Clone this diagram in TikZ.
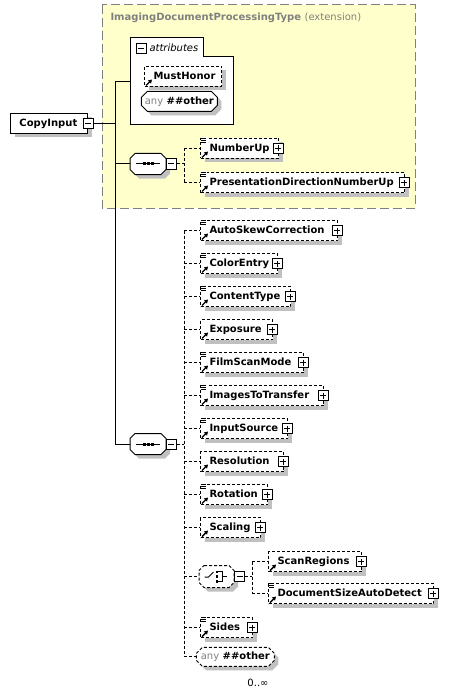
\documentclass[tikz,border=0pt]{standalone}
\usepackage{fontspec}
\setmainfont{DejaVu Sans}
\usepackage{tikz}
\usetikzlibrary{positioning}
\usetikzlibrary{shapes.misc}
\usetikzlibrary{shadows}
\usetikzlibrary{arrows.meta}

\definecolor{extyellow}{RGB}{255,255,204}
\definecolor{extgray}{RGB}{128,128,128}
\definecolor{shgray}{RGB}{192,192,192}

\newcommand{\elfont}{\fontsize{10}{11}\selectfont\bfseries\hyphenpenalty=10000 }
\newcommand{\txfont}{\fontsize{10}{11}\selectfont}

\tikzset{
  shadowed/.style={drop shadow={shadow xshift=4pt, shadow yshift=-4pt, fill=shgray, opacity=1}},
  elbox/.style={draw, fill=white, anchor=north west, minimum height=20pt, inner xsep=9pt, inner ysep=0pt,
    text height=7.5pt, text depth=2pt, align=left, font=\elfont, shadowed},
  optbox/.style={elbox, dash pattern=on 3pt off 2pt},
  anybox/.style={chamfered rectangle, chamfered rectangle xsep=3pt, chamfered rectangle ysep=3pt, draw, fill=white,
    anchor=north west, minimum height=20pt, inner sep=0pt, font=\elfont, shadowed},
  compo/.style={anchor=west, minimum width=35pt, minimum height=20pt, inner sep=0pt},
  togglebox/.style={draw, fill=white, minimum size=10pt, inner sep=0pt},
  minusbox/.style={togglebox, path picture={\draw ([xshift=2pt]path picture bounding box.west) -- ([xshift=-2pt]path picture bounding box.east);}},
  plusbox/.style={togglebox, path picture={\draw ([xshift=2pt]path picture bounding box.west) -- ([xshift=-2pt]path picture bounding box.east)
    ([yshift=-2pt]path picture bounding box.north) -- ([yshift=2pt]path picture bounding box.south);}},
  optline/.style={dash pattern=on 3pt off 2pt},
  extframe/.style={draw=extgray, fill=extyellow, dash pattern=on 9pt off 4pt}
}

% piccole icone degli elementi
\newcommand{\refmark}[1]{\draw[line width=1.4pt,-{Triangle[length=3.6pt,width=4.2pt]}] ([shift={(2,-1.5)}]#1.south west) -- ([shift={(8,-7.5)}]#1.south west);}
\newcommand{\multimark}[1]{\fill[white] ([shift={(0.6,-0.6)}]#1.north west) rectangle ([shift={(6.6,4.8)}]#1.north west);
  \draw[line width=0.8pt] ([shift={(1,0.3)}]#1.north west) -- +(5,0) ([shift={(1,2.3)}]#1.north west) -- +(5,0) ([shift={(1,4.3)}]#1.north west) -- +(5,0);}
\newcommand{\plusat}[1]{\node[plusbox] (#1p) at ([xshift=-1pt]#1.east) {};}
% ottagono dei compositori: nodo, taglio, opzioni del bordo
\newcommand{\octshape}[3]{%
  \fill[shgray, transform canvas={shift={(4pt,-4pt)}}] ([xshift=#2pt]#1.north west) -- ([xshift=-#2pt]#1.north east) -- ([yshift=-#2pt]#1.north east)
    -- ([yshift=#2pt]#1.south east) -- ([xshift=-#2pt]#1.south east) -- ([xshift=#2pt]#1.south west) -- ([yshift=#2pt]#1.south west)
    -- ([yshift=-#2pt]#1.north west) -- cycle;
  \draw[fill=white, #3] ([xshift=#2pt]#1.north west) -- ([xshift=-#2pt]#1.north east) -- ([yshift=-#2pt]#1.north east)
    -- ([yshift=#2pt]#1.south east) -- ([xshift=-#2pt]#1.south east) -- ([xshift=#2pt]#1.south west) -- ([yshift=#2pt]#1.south west)
    -- ([yshift=-#2pt]#1.north west) -- cycle;}
\newcommand{\seqicon}[1]{\draw ([xshift=-12pt]#1.center) -- ([xshift=12pt]#1.center);
  \fill ([shift={(-5.5,-1.5)}]#1.center) rectangle +(3,3);
  \fill ([shift={(-1.5,-1.5)}]#1.center) rectangle +(3,3);
  \fill ([shift={(2.5,-1.5)}]#1.center) rectangle +(3,3);}
\newcommand{\choiceicon}[1]{\draw ([shift={(-12,0.5)}]#1.center) -- +(4,0) -- +(9,-5);
  \fill ([shift={(-1,-6)}]#1.center) rectangle +(2.5,2.5);
  \fill ([shift={(-1,-1.2)}]#1.center) rectangle +(2.5,2.5);
  \fill ([shift={(-1,3.6)}]#1.center) rectangle +(2.5,2.5);
  \draw ([shift={(1.5,-4.8)}]#1.center) -- +(4.5,0) -- +(4.5,9.6) -- +(0,9.6) ([shift={(6,0)}]#1.center) -- +(4,0);}

\begin{document}
\begin{tikzpicture}[x=1pt,y=-1pt,line width=1pt]
\useasboundingbox (0,0) rectangle (457,695);

% tipo base (estensione)
\draw[extframe] (102,5) rectangle (415,208);
\node[anchor=west, inner sep=0pt, text=extgray, font=\elfont] (ttl) at (110,18) {ImagingDocumentProcessingType \mdseries(extension)};

% attributi
\draw[fill=white] (130,38) -- (203,38) -- (203,57) -- (233,57) -- (233,125) -- (130,125) -- cycle;
\node[minusbox] (attm) at (141,49) {};
\node[anchor=west, inner sep=0pt, font=\txfont\itshape] (attt) at (149,48) {attributes};
\coordinate (attl) at (130,82);
\node[optbox, text width=59pt] (must) at (144,66) {MustHonor};
\refmark{must}
\node[anybox, minimum width=76pt] (aany) at (144,94) {{\mdseries\color{extgray}any} \#\#other};

% elemento radice
\node[elbox, text width=59pt] (cin) at (10,113) {CopyInput};
\node[minusbox] (cinm) at (cin.east) {};

% sequenze
\node[compo] (sq1) at (130,164) {};
\octshape{sq1}{5}{}
\seqicon{sq1}
\node[minusbox] (sq1m) at ([xshift=5pt]sq1.east) {};
\node[compo] (sq2) at (130,444) {};
\octshape{sq2}{5}{}
\seqicon{sq2}
\node[minusbox] (sq2m) at ([xshift=5pt]sq2.east) {};

% figli della prima sequenza
\node[optbox, text width=60pt] (nup) at (200,138) {NumberUp};
\node[optbox, text width=186pt] (pdn) at (200,172) {PresentationDirectionNumberUp};

% figli della seconda sequenza
\node[optbox, text width=119pt] (ase) at (200,220) {AutoSkewCorrection};
\node[optbox, text width=59pt] (col) at (200,253) {ColorEntry};
\node[optbox, text width=72pt] (cty) at (200,286) {ContentType};
\node[optbox, text width=54pt] (exp) at (200,319) {Exposure};
\node[optbox, text width=85pt] (fsm) at (200,352) {FilmScanMode};
\node[optbox, text width=105pt] (itt) at (200,385) {ImagesToTransfer};
\node[optbox, text width=69pt] (ins) at (200,418) {InputSource};
\node[optbox, text width=65pt] (res) at (200,451) {Resolution};
\node[optbox, text width=49pt] (rot) at (200,484) {Rotation};
\node[optbox, text width=42pt] (sca) at (200,517) {Scaling};
\node[compo, minimum width=34pt, minimum height=21pt] (cho) at (199,576.5) {};
\octshape{cho}{5}{dash pattern=on 3pt off 2pt}
\choiceicon{cho}
\node[minusbox] (chom) at ([xshift=5.5pt]cho.east) {};
\node[optbox, text width=75pt] (scr) at (268,551) {ScanRegions};
\node[optbox, text width=147pt] (dsa) at (268,583) {DocumentSizeAutoDetect};
\node[optbox, text width=34pt] (sid) at (200,617) {Sides};
\node[anybox, dash pattern=on 3pt off 2pt, minimum width=78pt, minimum height=19pt] (dany) at (199,650) {{\mdseries\color{extgray}any} \#\#other};
\node[inner sep=0pt, font=\txfont] (occ) at (258,683) {0..∞};

% icone
\refmark{nup} \multimark{nup} \plusat{nup}
\refmark{pdn} \multimark{pdn} \plusat{pdn}
\refmark{ase} \multimark{ase} \plusat{ase}
\refmark{col} \multimark{col} \plusat{col}
\refmark{cty} \multimark{cty} \plusat{cty}
\refmark{exp} \plusat{exp}
\refmark{fsm} \multimark{fsm} \plusat{fsm}
\refmark{itt} \multimark{itt} \plusat{itt}
\refmark{ins} \multimark{ins} \plusat{ins}
\refmark{res} \plusat{res}
\refmark{rot} \multimark{rot} \plusat{rot}
\refmark{sca} \plusat{sca}
\refmark{scr} \plusat{scr}
\refmark{dsa} \multimark{dsa} \plusat{dsa}
\refmark{sid} \multimark{sid} \plusat{sid}

% collegamenti principali
\coordinate (trk) at (115,0);
\coordinate (brk) at (184,0);
\coordinate (brc) at (252,0);
\draw (cinm.east) -- (trk |- cinm.east);
\draw (trk |- attl) -- (trk |- sq2.west);
\draw (trk |- attl) -- (attl);
\draw (trk |- sq1.west) -- (sq1.west);
\draw (trk |- sq2.west) -- (sq2.west);

% collegamenti opzionali
\draw[optline] (sq1m.east) -- (brk |- sq1m.east);
\draw[optline] (brk |- nup.west) -- (brk |- pdn.west);
\draw[optline] (brk |- nup.west) -- (nup.west);
\draw[optline] (brk |- pdn.west) -- (pdn.west);

\draw[optline] (sq2m.east) -- (brk |- sq2m.east);
\draw[optline] (brk |- ase.west) -- (brk |- dany.west);
\draw[optline] (brk |- ase.west) -- (ase.west);
\draw[optline] (brk |- col.west) -- (col.west);
\draw[optline] (brk |- cty.west) -- (cty.west);
\draw[optline] (brk |- exp.west) -- (exp.west);
\draw[optline] (brk |- fsm.west) -- (fsm.west);
\draw[optline] (brk |- itt.west) -- (itt.west);
\draw[optline] (brk |- ins.west) -- (ins.west);
\draw[optline] (brk |- res.west) -- (res.west);
\draw[optline] (brk |- rot.west) -- (rot.west);
\draw[optline] (brk |- sca.west) -- (sca.west);
\draw[optline] (brk |- cho.west) -- (cho.west);
\draw[optline] (brk |- sid.west) -- (sid.west);
\draw[optline] (brk |- dany.west) -- (dany.west);

\draw[optline] (chom.east) -- (brc |- chom.east);
\draw[optline] (brc |- scr.west) -- (brc |- dsa.west);
\draw[optline] (brc |- scr.west) -- (scr.west);
\draw[optline] (brc |- dsa.west) -- (dsa.west);

\end{tikzpicture}
\end{document}
